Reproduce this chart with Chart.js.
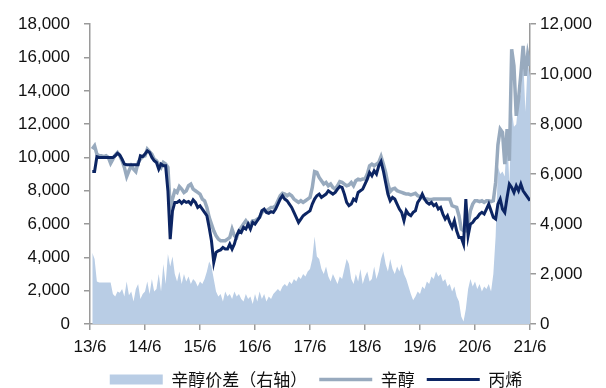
<!DOCTYPE html>
<html>
<head>
<meta charset="utf-8">
<script src="https://cdn.jsdelivr.net/npm/chart.js@4.4.0/dist/chart.umd.min.js"></script>
<style>
  html, body { margin: 0; padding: 0; background: #fff; }
  #wrap { width: 606px; height: 388px; position: relative; }
</style>
</head>
<body>
<div id="wrap"><canvas id="chart"></canvas></div>
<script>
// x 轴刻度标签 (每 12 个月一个)
const xTickLabels = ['13/6', '14/6', '15/6', '16/6', '17/6', '18/6', '19/6', '20/6', '21/6'];

// 半月度数据, 从 2013/6 之后半个月开始
const octanol = [
  10500, 10700, 10200, 10100, 10100, 10050, 10100, 10000, 9650, 9900, 10150, 10300, 10100, 9800, 9400, 8850, 9200, 9500, 9300, 9150,
  9700, 9900, 10050, 10100, 10500, 10350, 10200, 9900, 9800, 9600, 9400, 9700, 9600, 9400, 7000, 7500, 8000,
  7900, 8250, 8100, 7900, 8000, 8300, 8400, 8100, 8000, 7900, 7800, 7500, 7400, 7000, 6400, 6000, 5600, 5300,
  5100, 5000, 5000, 5000, 5100, 5200, 5700, 5300, 5200, 5600, 5800, 6000, 6200, 6000, 6000, 6200, 6200, 6300,
  6400, 6700, 6800, 6800, 6900, 7000, 7000, 7100, 7400, 7700, 7850, 7800, 7700, 7800, 7700, 7500, 7400, 7300,
  7400, 7300, 7400, 7500, 7600, 8200, 9150, 9100, 8800, 8600, 8400, 8500, 8300, 8400, 8200, 8100, 8300, 8550,
  8500, 8400, 8300, 8350, 8500, 8300, 8600, 8700, 8650, 8700, 8700, 9000, 9500, 9600, 9500, 9600, 9700, 10050,
  9600, 9100, 8400, 7950, 8100, 8150, 8000, 7950, 7900, 7850, 7800, 7800, 7750, 7800, 7850, 7700, 7650, 7600,
  7500, 7500, 7480, 7480, 7500, 7500, 7500, 7500, 7500, 7500, 7500, 7500, 7100, 7050, 7000, 6500, 5700, 5600,
  5600, 6000, 6800, 7200, 7400, 7400, 7350, 7400, 7300, 7400, 7400, 7350, 7400, 8500, 10750, 11700, 11500, 9600,
  11700, 9800, 16500, 15500, 12500, 13500, 15000, 16700, 14900, 16200, 15500
];

const propylene = [
  9150, 9150, 10040, 10000, 10000, 10000, 10000, 10000, 10000, 10000, 10100, 10250, 10150, 9900, 9600, 9560, 9560, 9560, 9560, 9560,
  9560, 10100, 10050, 10200, 10400, 10300, 10000, 9800, 9700, 9300, 9600, 9500, 9500, 8000, 5100, 6800, 7300,
  7300, 7400, 7250, 7400, 7300, 7350, 7200, 7450, 7300, 7000, 7100, 6900, 6700, 6500, 5800, 5000, 3700, 4300,
  4400, 4450, 4600, 4500, 4500, 4800, 4500, 4800, 5300, 5600, 5500, 5800, 5700, 6000, 5700, 6100, 6000, 6200,
  6400, 6800, 6900, 6700, 6650, 6750, 6700, 6900, 7200, 7500, 7700, 7500, 7400, 7200, 7000, 6700, 6400, 6100,
  6300, 6500, 6600, 6700, 6800, 7200, 7500, 7700, 7800, 7600, 7700, 7800, 8000, 7900, 7800, 7900, 8100, 8250,
  8200, 7800, 7300, 7100, 7200, 7500, 7400, 7900, 8000, 8100, 8400, 8700, 9100, 8900, 9200, 9000, 9500, 9750,
  9200, 8500, 7800, 7400, 7600, 7500, 7200, 6900, 6700, 6200, 6800, 6600, 6500, 6700, 6800, 7300, 7500, 7800,
  7500, 7300, 7200, 7300, 7100, 7200, 6900, 7000, 6600, 6300, 6500, 6100, 5800, 6200, 5600, 5200, 5200, 4800,
  7500, 5300, 6000, 6100, 6300, 6400, 6600, 6700, 6600, 6900, 7200, 6800, 6400, 6300, 7200, 7500, 6900, 6700,
  7600, 8400, 8200, 7900, 8300, 8000, 8400, 8000, 7800, 7600, 7400
];

// 辛醇价差 (右轴)
const spread = [
  2850, 2600, 1700, 1660, 1660, 1660, 1660, 1660, 1660, 1200, 1100, 1300, 1250, 1400, 1100, 1700, 1150, 1300, 900, 1400,
  1600, 1000, 1200, 1300, 1700, 1200, 1800, 1300, 1400, 2000, 1300, 2400, 1600, 2800, 2300, 2700, 2000,
  1700, 2100, 1600, 2000, 1700, 1900, 1600, 1800, 1700, 1500, 1700, 1600, 1800, 2100, 2500, 2300, 1800, 1300,
  1100, 1200, 900, 1300, 1100, 1200, 1000, 1300, 1100, 1200, 1000, 900, 1200, 1000, 1100, 800, 1200, 900,
  1300, 1000, 1200, 900, 1100, 1000, 1200, 1300, 1400, 1300, 1500, 1600, 1500, 1700, 1600, 1800, 1700, 1900,
  1800, 2000, 1900, 2100, 2200, 2600, 3500, 2700, 2600, 2200, 2000, 2300, 1900, 1700, 2000, 1800, 1600, 1900,
  1800, 2200, 2600, 2400, 1800, 1600, 2000, 1700, 2200, 1600, 1900, 2100, 1700, 1800, 2300, 1800, 2100, 2600,
  2900, 2400, 2100, 2600, 2200, 2000, 2300, 2100, 2400, 2000, 1800, 1500, 1200, 950, 1100, 1300, 1200, 1500,
  1400, 1700, 1600, 1900, 1800, 2100, 1900, 2000, 1700, 1800, 1500, 1600, 1300, 1500, 1100, 900, 300, 100,
  600, 1400, 1800, 1500, 1700, 1400, 1600, 1300, 1500, 1400, 1600, 1300, 2000, 3500, 6300, 6000, 6100, 5900,
  7700, 5600, 8600, 7900, 8000, 9000, 9200, 10700, 8500, 10500, 9900
];

// 采样时间: 距 2013/6 的月数 (半月一个点)
const months = spread.map((_, i) => (i + 1) / 2);

const colors = {
  area: '#B9CDE5',
  octanol: '#98AABE',
  propylene: '#0C2563',
  axis: '#9A9A9A',
  text: '#111111'
};

const tickFont = { family: "'Liberation Sans', Arial, sans-serif", size: 17 };
const thousands = v => v.toLocaleString('en-US');

// 图例位置微调, 与原图对齐
const legendShift = {
  id: 'legendShift',
  afterLayout(chart) {
    const lg = chart.legend;
    if (!lg) return;
    lg.left += 13;
    lg.right += 13;
    lg.top = 359;
    lg.bottom = 388;
    lg.height = 29;
  }
};

new Chart(document.getElementById('chart'), {
  type: 'line',
  data: {
    labels: months,
    datasets: [
      {
        label: '辛醇价差（右轴）',
        data: spread,
        yAxisID: 'y1',
        fill: 'origin',
        backgroundColor: colors.area,
        borderColor: colors.area,
        borderWidth: 0,
        pointRadius: 0,
        pointStyle: 'rect',
        order: 3
      },
      {
        label: '辛醇',
        data: octanol,
        yAxisID: 'y',
        borderColor: colors.octanol,
        backgroundColor: colors.octanol,
        borderWidth: 3.5,
        pointRadius: 0,
        pointStyle: 'line',
        order: 2
      },
      {
        label: '丙烯',
        data: propylene,
        yAxisID: 'y',
        borderColor: colors.propylene,
        backgroundColor: colors.propylene,
        borderWidth: 3,
        pointRadius: 0,
        pointStyle: 'line',
        order: 1
      }
    ]
  },
  options: {
    responsive: true,
    maintainAspectRatio: false,
    animation: false,
    layout: { padding: { top: 12, left: 0, right: 0, bottom: 0 } },
    plugins: {
      tooltip: { enabled: false },
      legend: {
        position: 'bottom',
        maxHeight: 28,
        labels: {
          usePointStyle: true,
          pointStyleWidth: 53,
          boxHeight: 10,
          padding: 12,
          color: colors.text,
          font: { family: "'Noto Sans CJK SC', sans-serif", size: 17 },
          sort: (a, b) => a.datasetIndex - b.datasetIndex
        }
      }
    },
    scales: {
      x: {
        type: 'linear',
        min: 0,
        max: 96,
        border: { color: colors.axis, width: 1.5 },
        grid: { drawOnChartArea: false, drawTicks: true, tickLength: 6, color: colors.axis, lineWidth: 1.5 },
        ticks: {
          stepSize: 12,
          autoSkip: false,
          maxRotation: 0,
          padding: 7,
          color: colors.text,
          font: tickFont,
          callback: v => xTickLabels[v / 12]
        },
        afterFit: s => { s.height = 36; }
      },
      y: {
        position: 'left',
        min: 0,
        max: 18000,
        border: { color: colors.axis, width: 1.5 },
        grid: { drawOnChartArea: false, tickLength: 6, color: colors.axis, lineWidth: 1.5 },
        ticks: { stepSize: 2000, padding: 14, color: colors.text, font: tickFont, callback: thousands },
        afterFit: s => { s.width = 90; }
      },
      y1: {
        position: 'right',
        min: 0,
        max: 12000,
        border: { color: colors.axis, width: 1.5 },
        grid: { drawOnChartArea: false, tickLength: 6, color: colors.axis, lineWidth: 1.5 },
        ticks: { stepSize: 2000, padding: 4, color: colors.text, font: tickFont, callback: thousands },
        afterFit: s => { s.width = 76; }
      }
    }
  },
  plugins: [legendShift]
});
</script>
</body>
</html>
